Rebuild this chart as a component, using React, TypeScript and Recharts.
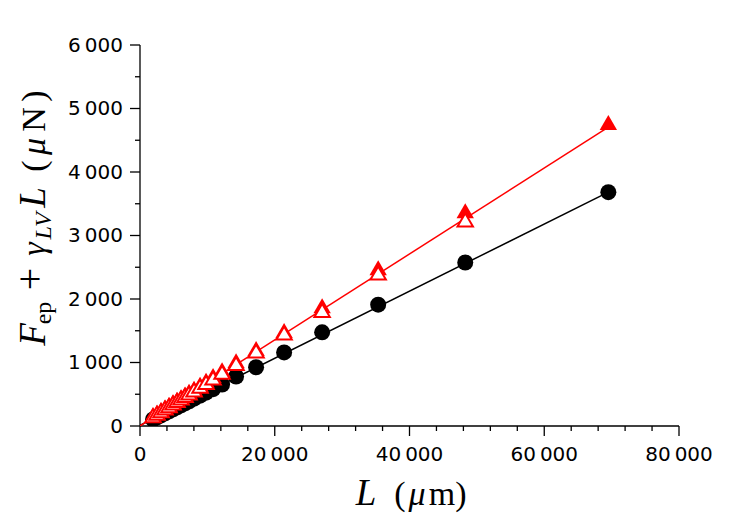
import React from 'react';
import { ScatterChart, Scatter, XAxis, YAxis } from 'recharts';

// L values (µm)
const lengths = [1930, 2525, 3119, 3713, 4307, 4902, 5496, 6090, 6684, 7278, 8021, 8912, 9803, 10843, 12180, 14259, 17230, 21389, 27033, 35351, 48273, 69514];
// black filled circles
const blackForce = [103, 135, 167, 199, 231, 262, 294, 326, 358, 390, 430, 478, 525, 580, 652, 780, 925, 1159, 1475, 1910, 2575, 3683];
// red filled triangles
const redFilledForce = [135, 175, 217, 258, 299, 341, 382, 423, 465, 506, 557, 619, 681, 754, 847, 988, 1180, 1465, 1853, 2453, 3352, 4740];
// red open triangles (none at the last length)
const redOpenForce = [128, 168, 207, 247, 286, 326, 365, 405, 444, 484, 533, 593, 652, 721, 810, 948, 1145, 1430, 1785, 2374, 3210];

// fitted lines
const fitL = [0, 69514];
const fitBlack = [10, 3683];
const fitRed = [0, 4708];

const xMajorTicks = [0, 20000, 40000, 60000, 80000];
const xTickLabels = ['0', '20\u2009000', '40\u2009000', '60\u2009000', '80\u2009000'];
const xMinorTicks = [4000, 8000, 12000, 16000, 24000, 28000, 32000, 36000, 44000, 48000, 52000, 56000, 64000, 68000, 72000, 76000];
const yMajorTicks = [0, 1000, 2000, 3000, 4000, 5000, 6000];
const yTickLabels = ['0', '1\u2009000', '2\u2009000', '3\u2009000', '4\u2009000', '5\u2009000', '6\u2009000'];
const yMinorTicks = [500, 1500, 2500, 3500, 4500, 5500];

const zip = (xs: number[], ys: number[]) => ys.map((y, i) => ({ L: xs[i], F: y }));
const blackData = zip(lengths, blackForce);
const redFilledData = zip(lengths, redFilledForce);
const redOpenData = zip(lengths, redOpenForce);
const fitBlackData = zip(fitL, fitBlack);
const fitRedData = zip(fitL, fitRed);

const xTicks = [...xMajorTicks, ...xMinorTicks].sort((a, b) => a - b);
const yTicks = [...yMajorTicks, ...yMinorTicks].sort((a, b) => a - b);

const tickFont = '"DejaVu Sans", sans-serif';
const mathFont = '"Liberation Serif", "DejaVu Serif", serif';

const XTick = (props: any) => {
  const { x, y, payload } = props;
  const idx = xMajorTicks.indexOf(payload.value);
  const major = idx >= 0;
  return (
    <g>
      <line x1={x} x2={x} y1={y} y2={y + (major ? 10 : 5)} stroke="#000" strokeWidth={1.3} />
      {major && (
        <text x={x} y={y + 35} textAnchor="middle" fontFamily={tickFont} fontSize={20} fill="#000">
          {xTickLabels[idx]}
        </text>
      )}
    </g>
  );
};

const YTick = (props: any) => {
  const { x, y, payload } = props;
  const idx = yMajorTicks.indexOf(payload.value);
  const major = idx >= 0;
  return (
    <g>
      <line x1={x} x2={x - (major ? 10 : 5)} y1={y} y2={y} stroke="#000" strokeWidth={1.3} />
      {major && (
        <text x={x - 17} y={y + 6.5} textAnchor="end" fontFamily={tickFont} fontSize={20} fill="#000">
          {yTickLabels[idx]}
        </text>
      )}
    </g>
  );
};

const Circle = (props: any) => <circle cx={props.cx} cy={props.cy} r={8} fill="#000" />;
const FilledTri = (props: any) => {
  const { cx, cy } = props;
  return <path d={`M${cx},${cy - 10}L${cx - 8.7},${cy + 5}L${cx + 8.7},${cy + 5}Z`} fill="#ff0000" />;
};
const OpenTri = (props: any) => {
  const { cx, cy } = props;
  return (
    <path
      d={`M${cx},${cy - 8.8}L${cx - 7.7},${cy + 4.3}L${cx + 7.7},${cy + 4.3}Z`}
      fill="#fff"
      stroke="#ff0000"
      strokeWidth={2}
      strokeLinejoin="miter"
    />
  );
};
const NoDot = () => <g />;

const XLabel = () => (
  <text y={505} fontFamily={mathFont} fontSize={34} fill="#000" textAnchor="middle">
    <tspan x={366} fontStyle="italic" fontSize={37}>L</tspan>
    <tspan x={400}>(</tspan>
    <tspan x={417} fontStyle="italic">μ</tspan>
    <tspan x={442}>m</tspan>
    <tspan x={461}>)</tspan>
  </text>
);

const YLabel = () => (
  <text transform="translate(45,347) rotate(-90)" fontFamily={mathFont} fontSize={34} fill="#000" textAnchor="middle">
    <tspan x={12.5} y={0} fontStyle="italic" fontSize={37}>F</tspan>
    <tspan x={34} y={6} fontSize={24}>ep</tspan>
    <tspan x={68} y={-2} fontSize={40}>+</tspan>
    <tspan x={98} y={0} fontStyle="italic">γ</tspan>
    <tspan x={121} y={6} fontSize={24} fontStyle="italic">LV</tspan>
    <tspan x={149.5} y={0} fontStyle="italic" fontSize={37}>L</tspan>
    <tspan x={181} y={0}>(</tspan>
    <tspan x={200.5} y={0} fontStyle="italic">μ</tspan>
    <tspan x={227.5} y={0}>N</tspan>
    <tspan x={251} y={0}>)</tspan>
  </text>
);

export default function App() {
  return (
    <div style={{ position: 'absolute', left: 0, top: 0, width: 747, height: 523, background: '#fff' }}>
      <ScatterChart width={747} height={523} margin={{ top: 45, right: 68, bottom: 0, left: 0 }}>
        <XAxis
          type="number"
          dataKey="L"
          domain={[0, 80000]}
          ticks={xTicks}
          interval={0}
          height={97}
          tickSize={0}
          tickMargin={0}
          tickLine={false}
          tick={<XTick />}
          axisLine={{ stroke: '#000', strokeWidth: 1.3 }}
          allowDataOverflow
          label={<XLabel />}
        />
        <YAxis
          type="number"
          dataKey="F"
          domain={[0, 6000]}
          ticks={yTicks}
          interval={0}
          width={140}
          tickSize={0}
          tickMargin={0}
          tickLine={false}
          tick={<YTick />}
          axisLine={{ stroke: '#000', strokeWidth: 1.3 }}
          allowDataOverflow
          label={<YLabel />}
        />
        <Scatter data={fitBlackData} line={{ stroke: '#000', strokeWidth: 1.5 }} shape={<NoDot />} isAnimationActive={false} />
        <Scatter data={fitRedData} line={{ stroke: '#ff0000', strokeWidth: 1.5 }} shape={<NoDot />} isAnimationActive={false} />
        <Scatter data={blackData} shape={<Circle />} isAnimationActive={false} />
        <Scatter data={redFilledData} shape={<FilledTri />} isAnimationActive={false} />
        <Scatter data={redOpenData} shape={<OpenTri />} isAnimationActive={false} />
      </ScatterChart>
    </div>
  );
}
